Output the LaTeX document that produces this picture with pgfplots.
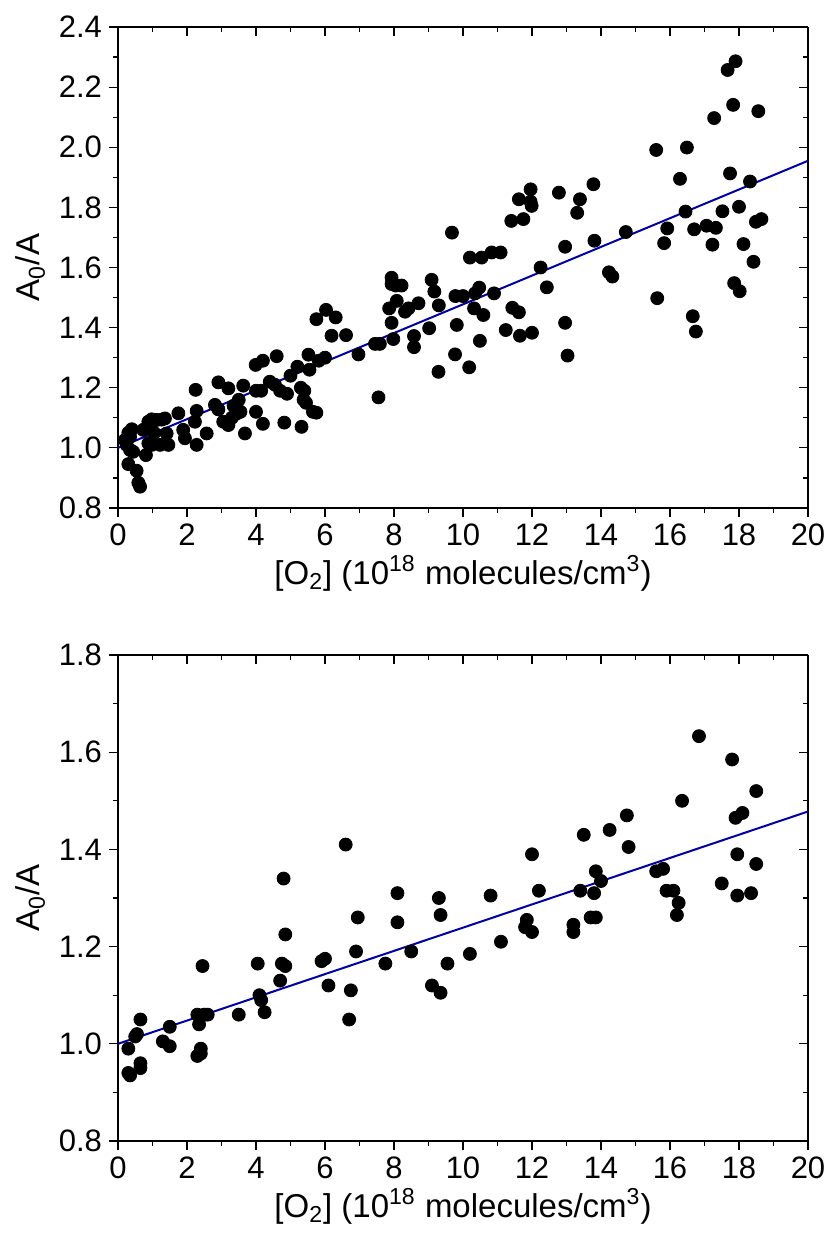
\documentclass[border=0pt]{standalone}
\usepackage{pgfplots}
\pgfplotsset{compat=1.18}
\usepackage{fontspec}
\setmainfont{Liberation Sans}
\definecolor{fitblue}{rgb}{0.0,0.0,0.65}
\pgfplotsset{
  common/.style={
    scale only axis,
    width=345pt,
    xmin=0, xmax=20,
    xtick={0,2,...,20},
    minor x tick num=1,
    minor y tick num=1,
    tick align=outside,
    axis x line*=bottom,
    axis y line*=left,
    major tick length=4.5pt,
    minor tick length=2.5pt,
    tick style={black, line width=0.6pt},
    axis line style={line width=0.8pt},
    /pgf/number format/assume math mode=true,
    /pgf/number format/fixed,
    /pgf/number format/fixed zerofill,
    /pgf/number format/precision=1,
    xticklabel style={/pgf/number format/precision=0, /pgf/number format/fixed zerofill=false},
    tick label style={font=\fontsize{15.5}{17}\selectfont},
    label style={font=\fontsize{16.5}{19}\selectfont},
    xlabel={[O\textsubscript{2}] (10\textsuperscript{18} molecules/cm\textsuperscript{3})},
    ylabel={A\textsubscript{0}/A},
    xlabel style={yshift=2pt},
    ylabel style={yshift=0pt},
    clip=false,
  },
  frame/.style={
    scale only axis,
    width=345pt,
    xmin=0, xmax=20,
    xtick={0,2,...,20},
    minor x tick num=1,
    minor y tick num=1,
    tick align=inside,
    axis x line*=top,
    axis y line*=right,
    major tick length=4.5pt,
    minor tick length=2.5pt,
    tick style={black, line width=0.6pt},
    axis line style={line width=0.8pt},
    xticklabels={}, yticklabels={},
  },
  dots/.style={only marks, mark=*, mark size=3.25pt, mark options={fill=black, draw=black}},
}
\begin{document}
\begin{tikzpicture}
\path[use as bounding box] (-59pt,-362.5pt) rectangle (355pt,254pt);
% ---------- top panel ----------
\begin{axis}[frame, height=240.5pt, ymin=0.8, ymax=2.4, ytick={0.8,1.0,...,2.4}, at={(0,0)}, anchor=south west]
\end{axis}
\begin{axis}[common, height=240.5pt, ymin=0.8, ymax=2.4, ytick={0.8,1.0,1.2,1.4,1.6,1.8,2.0,2.2,2.4}, at={(0,0)}, anchor=south west]
\addplot[dots] table {
x y
0.20 1.026
0.25 1.010
0.30 0.946
0.35 0.993
0.35 1.037
0.40 1.062
0.44 0.987
0.30 1.050
0.54 0.924
0.59 0.884
0.64 0.871
0.73 1.060
0.81 0.976
0.88 1.087
0.88 1.015
0.93 1.070
0.98 1.095
0.98 1.010
1.05 1.050
1.12 1.093
1.22 1.010
1.27 1.094
1.36 1.098
1.41 1.048
1.46 1.010
1.75 1.115
1.89 1.060
1.94 1.032
2.23 1.087
2.25 1.193
2.28 1.123
2.28 1.010
2.57 1.048
2.81 1.143
2.91 1.218
2.91 1.128
3.05 1.087
3.20 1.198
3.20 1.076
3.30 1.100
3.35 1.140
3.45 1.115
3.50 1.160
3.55 1.120
3.63 1.207
3.68 1.048
3.99 1.276
4.00 1.190
4.00 1.120
4.15 1.190
4.20 1.290
4.20 1.080
4.40 1.220
4.55 1.210
4.60 1.305
4.70 1.190
4.82 1.084
4.90 1.180
5.00 1.240
5.20 1.270
5.32 1.070
5.30 1.200
5.40 1.190
5.38 1.160
5.45 1.150
5.52 1.310
5.55 1.260
5.65 1.120
5.75 1.117
5.75 1.428
5.82 1.290
6.00 1.300
6.03 1.459
6.19 1.373
6.31 1.434
6.61 1.375
6.97 1.311
7.45 1.346
7.59 1.346
7.55 1.168
7.93 1.566
7.93 1.545
8.05 1.540
8.22 1.540
8.08 1.489
7.86 1.464
8.32 1.453
8.42 1.464
8.71 1.481
7.93 1.416
7.98 1.362
8.58 1.372
8.58 1.335
9.02 1.398
9.09 1.559
9.17 1.520
9.30 1.474
9.29 1.253
9.68 1.716
9.78 1.505
10.00 1.505
9.82 1.409
9.77 1.311
10.18 1.268
10.20 1.633
10.54 1.633
10.83 1.650
11.09 1.650
10.32 1.464
10.35 1.514
10.47 1.533
10.59 1.442
10.49 1.356
10.90 1.514
11.24 1.392
11.43 1.466
11.62 1.451
11.65 1.373
11.40 1.755
11.62 1.827
11.75 1.761
11.96 1.860
11.96 1.819
11.99 1.805
12.00 1.383
12.25 1.600
12.43 1.534
12.78 1.849
12.96 1.669
12.96 1.416
13.03 1.307
13.31 1.782
13.39 1.827
13.78 1.877
13.81 1.689
14.72 1.718
14.23 1.584
14.33 1.570
15.60 1.991
15.63 1.498
15.83 1.681
15.92 1.730
16.29 1.895
16.49 1.999
16.45 1.786
16.70 1.727
16.66 1.438
16.75 1.387
17.06 1.739
17.33 1.732
17.23 1.676
17.28 2.097
17.52 1.787
17.67 2.257
17.90 2.286
17.83 2.141
17.74 1.913
17.86 1.548
18.02 1.521
18.00 1.802
18.13 1.678
18.32 1.886
18.42 1.619
18.56 2.120
18.49 1.752
18.65 1.761
};
\addplot[fitblue, line width=1pt] coordinates {(0,1.0) (20,1.955)};
\end{axis}
% ---------- bottom panel ----------
\begin{axis}[frame, height=243pt, ymin=0.8, ymax=1.8, ytick={0.8,1.0,...,1.8}, at={(0,-73.5pt)}, anchor=north west]
\end{axis}
\begin{axis}[common, height=243pt, ymin=0.8, ymax=1.8, ytick={0.8,1.0,1.2,1.4,1.6,1.8}, at={(0,-73.5pt)}, anchor=north west]
\addplot[dots] table {
x y
0.30 0.940
0.35 0.935
0.30 0.990
0.50 1.015
0.55 1.020
0.65 0.960
0.65 0.950
0.65 1.050
1.30 1.005
1.50 1.035
1.50 0.995
2.30 0.975
2.35 1.040
2.40 0.980
2.40 0.990
2.30 1.060
2.45 1.160
2.50 1.060
2.60 1.060
3.50 1.060
4.05 1.165
4.10 1.100
4.15 1.090
4.25 1.065
4.70 1.130
4.75 1.165
4.80 1.340
4.85 1.225
4.85 1.160
5.90 1.170
6.00 1.175
6.10 1.120
6.60 1.410
6.70 1.050
6.75 1.110
6.90 1.190
6.95 1.260
7.75 1.165
8.10 1.310
8.10 1.250
8.50 1.190
9.10 1.120
9.30 1.300
9.35 1.265
9.35 1.105
9.55 1.165
10.20 1.185
10.80 1.305
11.10 1.210
11.80 1.240
11.85 1.255
12.00 1.390
12.00 1.230
12.20 1.315
13.20 1.245
13.20 1.230
13.40 1.315
13.50 1.430
13.70 1.260
13.80 1.310
13.85 1.355
13.85 1.260
14.00 1.335
14.25 1.440
14.75 1.470
14.80 1.405
15.60 1.355
15.80 1.360
15.90 1.315
16.10 1.315
16.20 1.265
16.25 1.290
16.35 1.500
16.84 1.633
17.50 1.330
17.80 1.585
17.90 1.465
17.95 1.390
17.95 1.305
18.10 1.475
18.35 1.310
18.50 1.520
18.50 1.370
};
\addplot[fitblue, line width=1pt] coordinates {(0,1.0) (20,1.478)};
\end{axis}
\end{tikzpicture}
\end{document}
